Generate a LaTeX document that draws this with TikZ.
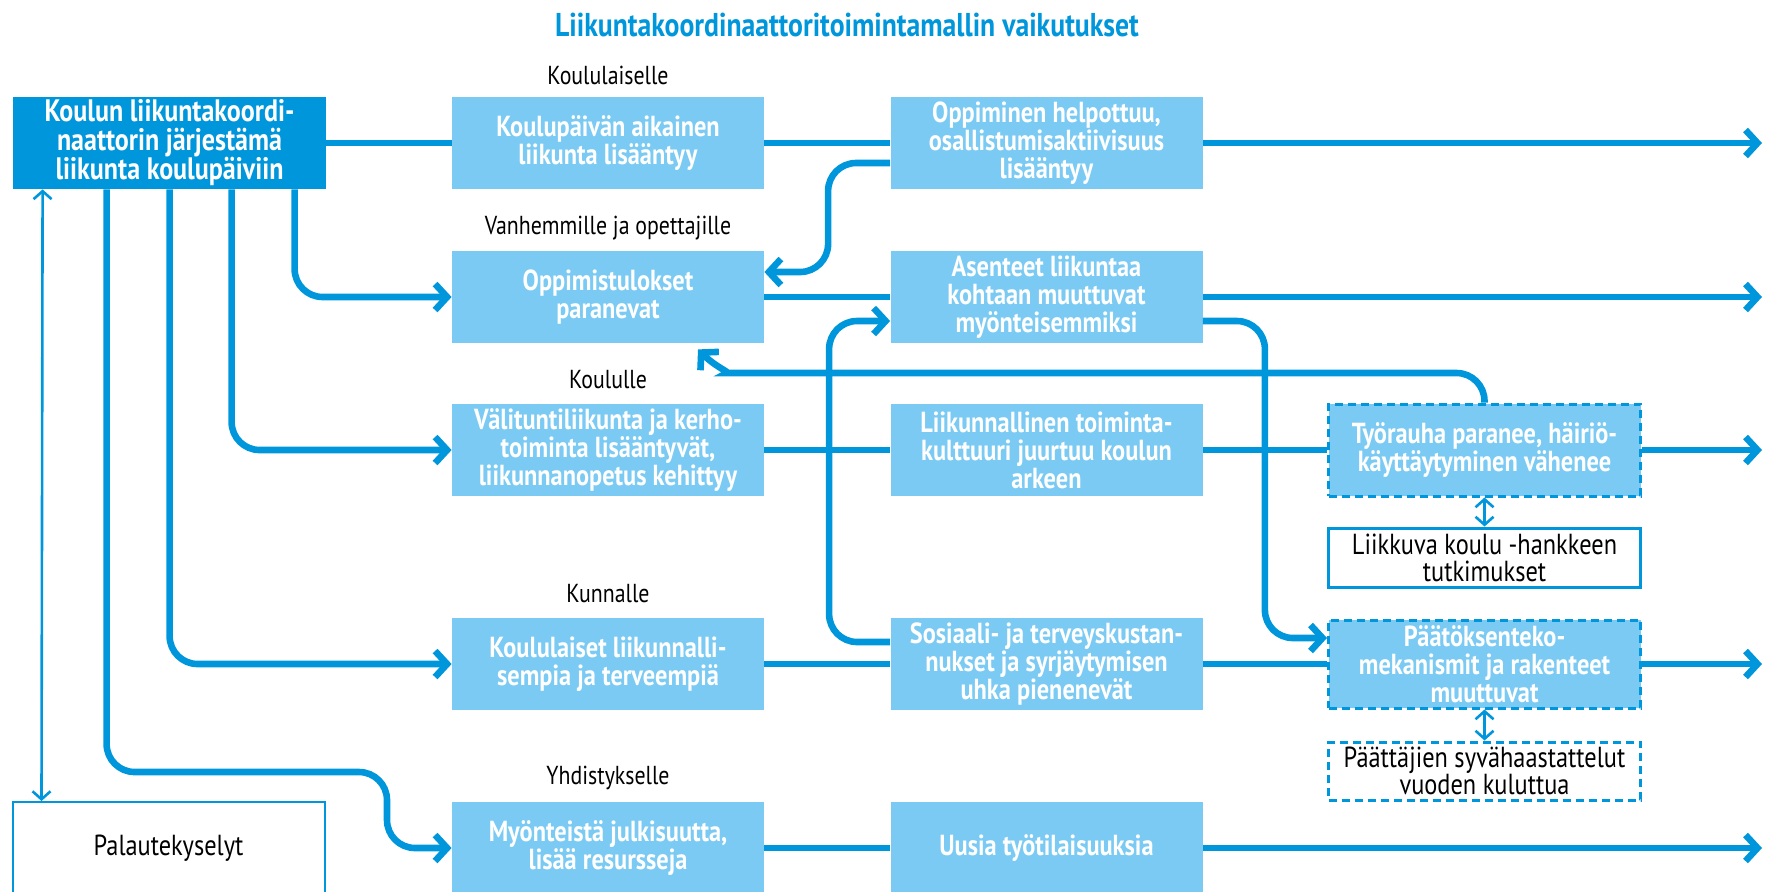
\documentclass[tikz,border=0pt]{standalone}
\usepackage{fontspec}
\setmainfont{PT Sans}[FakeStretch=0.84]
\usetikzlibrary{arrows.meta}

\definecolor{darkblue}{RGB}{0,150,219}
\definecolor{lightblue}{RGB}{122,202,243}

\begin{document}
\begin{tikzpicture}
		[x=0.5pt,y=-0.5pt,line cap=butt,
		%Styles
		box/.style={inner sep=0pt,minimum width=156pt,minimum height=46pt,align=center,text=white,font=\bfseries\fontsize{14.5}{14}\selectfont},
		main box/.style={box,fill=darkblue,font=\bfseries\fontsize{15.5}{14.5}\selectfont},
		effect/.style={box,fill=lightblue},
		measured/.style={effect,draw=darkblue,line width=1.5pt,dash pattern=on 4pt off 2.5pt},
		source/.style={box,text=black,fill=white,draw=darkblue,line width=1.5pt,font=\fontsize{14.5}{13.5}\selectfont},
		group/.style={font=\fontsize{13}{14}\selectfont},
		flow/.style={draw=darkblue,line width=3.3pt,rounded corners=14pt,>={Straight Barb[length=6pt,width=13pt]}},
		link/.style={draw=darkblue,line width=1.3pt,>={Straight Barb[length=4pt,width=9pt]}}
		]
		
		\useasboundingbox (0,0) rectangle (1766,891);
		
		%Coordinates
		\coordinate (edge) at (1762,0);
		\coordinate (fb) at (755,373);
		\coordinate (bend5) at (387,772);
		
		%The boxes
		\node[text=darkblue,font=\bfseries\fontsize{16.5}{18}\selectfont] (title) at (847,25) {Liikuntakoordinaattoritoimintamallin vaikutukset};
		
		\node[main box,minimum width=156.5pt] (src) at (169.5,143) {Koulun liikuntakoordi-\\naattorin järjestämä\\liikunta koulupäiviin};
		\node[source,line width=1pt] (pal) at (168.5,848) {Palautekyselyt};
		
		\node[group] (g1) at (608,75) {Koululaiselle};
		\node[group] (g2) at (608,228) {Vanhemmille ja opettajille};
		\node[group] (g3) at (608,380) {Koululle};
		\node[group] (g4) at (608,594) {Kunnalle};
		\node[group] (g5) at (608,778) {Yhdistykselle};
		
		\node[effect] (kl1) at (608,143) {Koulupäivän aikainen\\liikunta lisääntyy};
		\node[effect] (kl2) at (608,297) {Oppimistulokset\\paranevat};
		\node[effect] (kl3) at (608,450) {Välituntiliikunta ja kerho-\\toiminta lisääntyvät,\\liikunnanopetus kehittyy};
		\node[effect] (kl4) at (608,664) {Koululaiset liikunnalli-\\sempia ja terveempiä};
		\node[effect] (kl5) at (608,848) {Myönteistä julkisuutta,\\lisää resursseja};
		
		\node[effect] (op1) at (1046.5,143) {Oppiminen helpottuu,\\osallistumisaktiivisuus\\lisääntyy};
		\node[effect] (as2) at (1046.5,297) {Asenteet liikuntaa\\kohtaan muuttuvat\\myönteisemmiksi};
		\node[effect] (li3) at (1046.5,450) {Liikunnallinen toiminta-\\kulttuuri juurtuu koulun\\arkeen};
		\node[effect] (so4) at (1046.5,664) {Sosiaali- ja terveyskustan-\\nukset ja syrjäytymisen\\uhka pienenevät};
		\node[effect] (uu5) at (1046.5,848) {Uusia työtilaisuuksia};
		
		\node[measured] (ty3) at (1484.5,450) {Työrauha paranee, häiriö-\\käyttäytyminen vähenee};
		\node[source,minimum height=29.5pt] (lk) at (1484.5,557.5) {Liikkuva koulu -hankkeen\\tutkimukset};
		\node[measured,minimum height=44pt] (pa4) at (1484.5,664) {Päätöksenteko-\\mekanismit ja rakenteet\\muuttuvat};
		\node[source,minimum height=29pt,dash pattern=on 4pt off 2.5pt] (pj) at (1484.5,771) {Päättäjien syvähaastattelut\\vuoden kuluttua};
		
		%Row 1
		\draw[flow] (src) -- (kl1);
		\draw[flow] (kl1) -- (op1);
		\draw[flow,->] (op1.east) -- (op1.east -| edge);
		
		%Row 2
		\draw[flow,->] ([xshift=141pt]src.south west) |- (kl2);
		\draw[flow] (kl2) -- (as2);
		\draw[flow,->] (as2.east) -- (as2.east -| edge);
		\draw[flow,->] ([yshift=-10pt]op1.west) -- ++(-31pt,0) |- ([yshift=12.5pt]kl2.east);
		
		%Row 3
		\draw[flow,->] ([xshift=109.5pt]src.south west) |- (kl3);
		\draw[flow] (kl3) -- (li3);
		\draw[flow] (li3) -- (ty3);
		\draw[flow,->] (ty3.east) -- (ty3.east -| edge);
		\draw[flow,->] (ty3.north) |- (fb) to[out=180,in=-45] ([xshift=45pt,yshift=-3pt]kl2.south);
		
		%Row 4
		\draw[flow,->] ([xshift=78.5pt]src.south west) |- (kl4);
		\draw[flow] (kl4) -- (so4);
		\draw[flow] (so4) -- (pa4);
		\draw[flow,->] (pa4.east) -- (pa4.east -| edge);
		\draw[flow,->] ([yshift=11pt]so4.west) -- ++(-30.5pt,0) |- ([yshift=-12pt]as2.west);
		\draw[flow,->] ([yshift=-12pt]as2.east) -- ++(31pt,0) |- ([yshift=13pt]pa4.west);
		
		%Row 5
		\draw[flow,->] ([xshift=47pt]src.south west) |- (bend5) |- (kl5);
		\draw[flow] (kl5) -- (uu5);
		\draw[flow,->] (uu5.east) -- (uu5.east -| edge);
		
		%Measurements
		\draw[link,<->] (ty3) -- (lk);
		\draw[link,<->] (pa4) -- (pj);
		\draw[link,<->] ([xshift=15pt]src.south west) -- ([xshift=15pt]pal.north west);
	\end{tikzpicture}
\end{document}
